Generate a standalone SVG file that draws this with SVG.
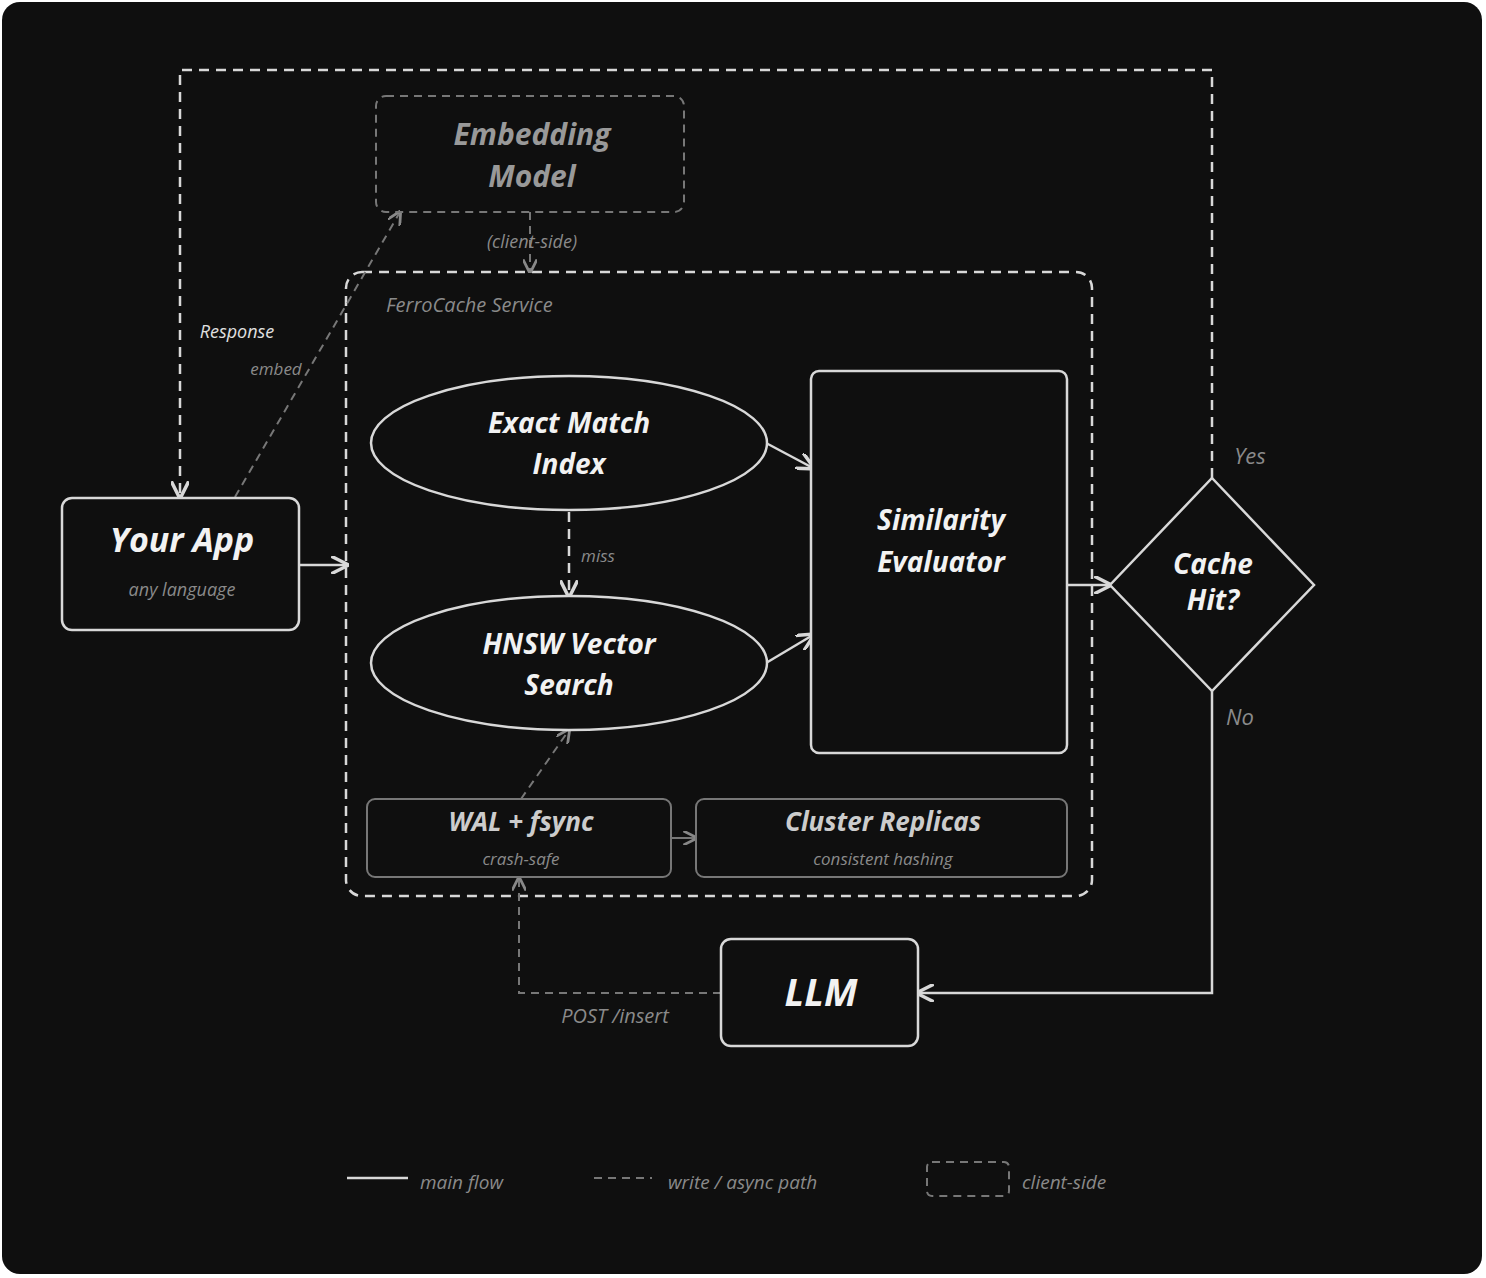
<svg xmlns="http://www.w3.org/2000/svg" width="1486" height="1278" viewBox="0 0 1486 1278">
<defs>
<style>
.t{font-family:"Open Sans","Liberation Sans",sans-serif;font-style:italic;text-anchor:middle}
.w{fill:#f2f2f2;font-weight:700}
.g{fill:#8a8a8a}
.ln{fill:none;stroke:#d8d8d8;stroke-width:2.5}
.dl{fill:none;stroke:#d8d8d8;stroke-width:2.5;stroke-dasharray:10 7}
.gd{fill:none;stroke:#777;stroke-width:2;stroke-dasharray:8 6}
.gs{fill:none;stroke:#777;stroke-width:2}
.box{fill:#0f0f0f;stroke:#d8d8d8;stroke-width:2.5}
</style>
<marker id="a" viewBox="0 0 10 10" refX="9" refY="5" markerWidth="7" markerHeight="7" orient="auto-start-reverse"><path d="M0,0 L10,5 L0,10" fill="none" stroke="#d8d8d8" stroke-width="2"/></marker>
<marker id="ag" viewBox="0 0 10 10" refX="9" refY="5" markerWidth="7" markerHeight="7" orient="auto-start-reverse"><path d="M0,0 L10,5 L0,10" fill="none" stroke="#888" stroke-width="2"/></marker>
</defs>
<rect width="1486" height="1278" fill="#fff"/>
<rect x="2" y="2" width="1480" height="1272" rx="18" fill="#0f0f0f"/>
<g id="container"><rect x="346" y="272" width="746" height="624" rx="16" class="dl" stroke-width="2"/><text x="386" y="312" class="t g" style="text-anchor:start" font-size="20">FerroCache Service</text></g>
<g id="connectors">
<path d="M1212,478 V70 H180 V497" class="dl" marker-end="url(#a)"/>
<text x="1250" y="464" class="t g" font-size="22">Yes</text>
<text x="237" y="338" class="t" fill="#e0e0e0" font-size="18">Response</text>
<path d="M235,497 L400,212" class="gd" marker-end="url(#ag)"/>
<text x="276" y="375" class="t g" font-size="17">embed</text>
<path d="M530,212 V272" class="gd" marker-end="url(#ag)"/>
<text x="532" y="248" class="t g" font-size="18">(client-side)</text>
<path d="M569,512 V596" class="dl" stroke-width="2" marker-end="url(#a)"/>
<text x="598" y="562" class="t g" font-size="17">miss</text>
<path d="M766,443 L813,468" class="ln" marker-end="url(#a)"/>
<path d="M766,663 L813,635" class="ln" marker-end="url(#a)"/>
<path d="M299,565 H347" class="ln" marker-end="url(#a)"/>
<path d="M1067,585 H1110" class="ln" marker-end="url(#a)"/>
<path d="M1212,691 V993 H918" class="ln" marker-end="url(#a)"/>
<text x="1240" y="725" class="t g" font-size="22">No</text>
<path d="M721,993 H519 V878" class="gd" marker-end="url(#ag)"/>
<text x="615" y="1023" class="t g" font-size="20">POST /insert</text>
<path d="M671,838 H696" class="gs" marker-end="url(#ag)"/>
<path d="M521,799 L569,730" class="gd" marker-end="url(#ag)"/>
</g>
<g id="embedding"><rect x="376" y="96" width="308" height="116" rx="10" class="gd" stroke="#666"/><text x="532" y="145" class="t" fill="#999" font-weight="700" font-size="30">Embedding</text><text x="532" y="187" class="t" fill="#999" font-weight="700" font-size="30">Model</text></g>
<g id="exact"><ellipse cx="569" cy="443" rx="198" ry="67" class="box"/><text x="569" y="433" class="t w" font-size="28">Exact Match</text><text x="569" y="474" class="t w" font-size="28">Index</text></g>
<g id="hnsw"><ellipse cx="569" cy="663" rx="198" ry="67" class="box"/><text x="569" y="654" class="t w" font-size="28">HNSW Vector</text><text x="569" y="695" class="t w" font-size="28">Search</text></g>
<g id="sim"><rect x="811" y="371" width="256" height="382" rx="8" class="box"/><text x="941" y="530" class="t w" font-size="28">Similarity</text><text x="941" y="572" class="t w" font-size="28">Evaluator</text></g>
<g id="app"><rect x="62" y="498" width="237" height="132" rx="10" class="box"/><text x="182" y="552" class="t w" font-size="34">Your App</text><text x="182" y="596" class="t g" font-size="18">any language</text></g>
<g id="hit"><path d="M1212,478 L1314,585 L1212,691 L1110,585 Z" class="box"/><text x="1213" y="574" class="t w" font-size="28">Cache</text><text x="1213" y="610" class="t w" font-size="28">Hit?</text></g>
<g id="llm"><rect x="721" y="939" width="197" height="107" rx="10" class="box"/><text x="821" y="1006" class="t w" font-size="38">LLM</text></g>
<g id="wal"><rect x="367" y="799" width="304" height="78" rx="8" class="gs" stroke="#888"/><text x="521" y="831" class="t" fill="#ccc" font-weight="700" font-size="26">WAL + fsync</text><text x="521" y="865" class="t g" font-size="17">crash-safe</text></g>
<g id="cluster"><rect x="696" y="799" width="371" height="78" rx="8" class="gs" stroke="#888"/><text x="883" y="831" class="t" fill="#ccc" font-weight="700" font-size="26">Cluster Replicas</text><text x="883" y="865" class="t g" font-size="17">consistent hashing</text></g>
<g id="legend">
<path d="M347,1178 H408" class="ln"/><text x="420" y="1189" class="t g" style="text-anchor:start" font-size="19">main flow</text>
<path d="M594,1178 H652" class="gd"/><text x="668" y="1189" class="t g" style="text-anchor:start" font-size="19">write / async path</text>
<rect x="927" y="1162" width="82" height="34" rx="5" class="gd" stroke="#666"/><text x="1022" y="1189" class="t g" style="text-anchor:start" font-size="19">client-side</text>
</g>
</svg>
